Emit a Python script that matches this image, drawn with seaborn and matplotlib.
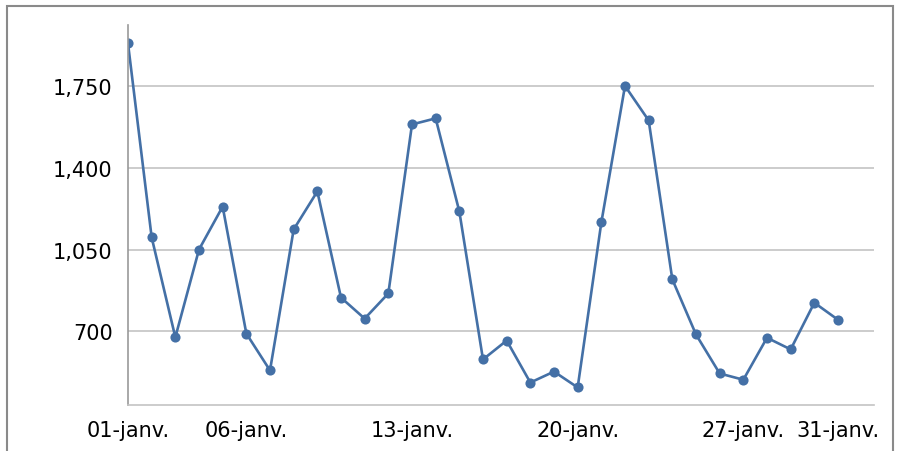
import matplotlib
matplotlib.use("Agg")
import matplotlib.pyplot as plt
import seaborn as sns
import pandas as pd
from matplotlib.patches import Rectangle
from matplotlib.ticker import FuncFormatter

days = list(range(1, 32))
values = [1933, 1102, 674, 1050, 1234, 690, 532, 1136, 1299, 844,
          754, 862, 1586, 1612, 1213, 579, 660, 480, 527, 459,
          1166, 1751, 1603, 922, 686, 519, 492, 672, 622, 822, 749]
tick_days = [1, 6, 13, 20, 27, 31]
tick_labels = ["01-janv.", "06-janv.", "13-janv.", "20-janv.", "27-janv.", "31-janv."]
y_ticks = [700, 1050, 1400, 1750]

sns.set_style("white")
plt.rcParams['font.family'] = ['DejaVu Sans']

df = pd.DataFrame({"day": days, "value": values})

fig = plt.figure(figsize=(8.97, 4.52), dpi=100)
ax = fig.add_axes([128/897, 1-405.5/452, (874-128)/897, (405.5-26)/452])

sns.lineplot(data=df, x="day", y="value", ax=ax, color="#4470a6",
             linewidth=1.9, marker="o", markersize=7.3, markeredgewidth=0)

ax.set_xlim(1, 1 + (874-128)/((838-128)/30))
ax.set_ylim(386, 2012)
ax.set_yticks(y_ticks)
ax.yaxis.set_major_formatter(FuncFormatter(lambda v, p: f"{int(v):,}"))
ax.set_xticks(tick_days)
ax.set_xticklabels(tick_labels)
ax.set_xlabel("")
ax.set_ylabel("")
ax.grid(axis="y", color="#c4c4c4", linewidth=1.2)
ax.set_axisbelow(True)
for s in ["top", "right"]:
    ax.spines[s].set_visible(False)
ax.spines["left"].set_color("#999999")
ax.spines["bottom"].set_color("#c4c4c4")
ax.spines["left"].set_linewidth(1.2)
ax.spines["bottom"].set_linewidth(1.2)
ax.tick_params(axis="both", direction="out", length=5, width=1.8,
               color="#999999", labelsize=15, labelcolor="black", pad=6)

fig.patches.append(Rectangle((7/897, -0.1), (893-7)/897, 1.1 - 7/452,
                             transform=fig.transFigure, fill=False,
                             edgecolor="#8a8a8a", linewidth=1.5))

fig.savefig("out.png", dpi=100)
